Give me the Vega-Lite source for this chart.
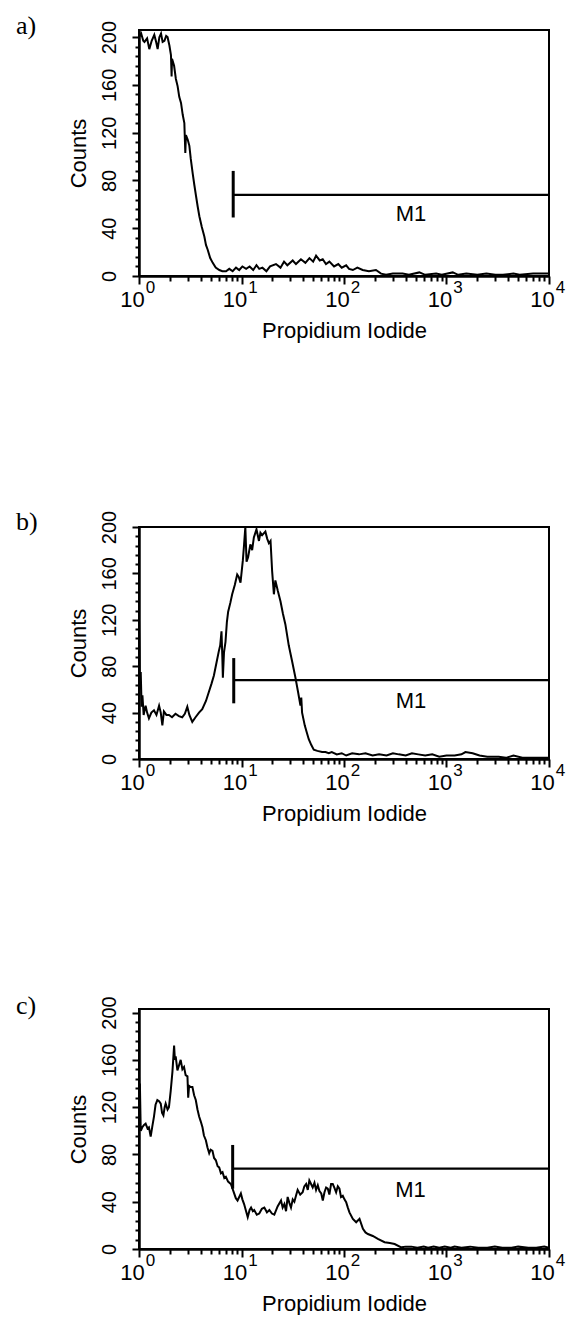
{
  "$schema": "https://vega.github.io/schema/vega-lite/v6.json",
  "background": "white",
  "padding": {"left": 15, "top": 12, "right": 2, "bottom": 0},
  "spacing": 166,
  "datasets": {
    "a": [
      {"x": 1.0, "y": 200}, {"x": 1.05, "y": 203}, {"x": 1.1, "y": 197}, {"x": 1.13, "y": 196}, {"x": 1.2, "y": 199}, {"x": 1.26, "y": 190}, {"x": 1.33, "y": 197}, {"x": 1.41, "y": 202}, {"x": 1.47, "y": 196}, {"x": 1.52, "y": 190}, {"x": 1.58, "y": 200}, {"x": 1.64, "y": 203}, {"x": 1.7, "y": 196}, {"x": 1.77, "y": 197}, {"x": 1.84, "y": 201}, {"x": 1.9, "y": 200}, {"x": 1.98, "y": 193}, {"x": 2.05, "y": 185}, {"x": 2.08, "y": 167}, {"x": 2.1, "y": 182}, {"x": 2.2, "y": 176}, {"x": 2.29, "y": 165}, {"x": 2.38, "y": 159}, {"x": 2.47, "y": 150}, {"x": 2.57, "y": 145}, {"x": 2.67, "y": 135}, {"x": 2.77, "y": 128}, {"x": 2.83, "y": 103}, {"x": 2.87, "y": 118}, {"x": 2.99, "y": 114}, {"x": 3.1, "y": 109}, {"x": 3.2, "y": 98}, {"x": 3.34, "y": 86}, {"x": 3.47, "y": 76}, {"x": 3.6, "y": 67}, {"x": 3.74, "y": 58}, {"x": 3.88, "y": 50}, {"x": 4.1, "y": 41}, {"x": 4.34, "y": 33}, {"x": 4.5, "y": 26}, {"x": 4.68, "y": 22}, {"x": 4.95, "y": 15}, {"x": 5.24, "y": 11}, {"x": 5.6, "y": 7}, {"x": 6.08, "y": 5}, {"x": 6.5, "y": 4}, {"x": 7.06, "y": 4}, {"x": 7.6, "y": 6}, {"x": 8.2, "y": 4}, {"x": 8.84, "y": 7}, {"x": 9.5, "y": 5}, {"x": 10.2, "y": 8}, {"x": 11.1, "y": 6}, {"x": 12, "y": 8}, {"x": 13, "y": 5}, {"x": 14, "y": 9}, {"x": 14.9, "y": 6}, {"x": 16, "y": 7}, {"x": 17.5, "y": 4}, {"x": 19, "y": 8}, {"x": 21.7, "y": 10}, {"x": 24, "y": 7}, {"x": 26, "y": 12}, {"x": 28, "y": 9}, {"x": 31.6, "y": 13}, {"x": 34, "y": 10}, {"x": 38, "y": 14}, {"x": 42, "y": 11}, {"x": 46, "y": 15}, {"x": 50, "y": 12}, {"x": 53.4, "y": 17}, {"x": 58, "y": 13}, {"x": 62, "y": 14}, {"x": 66.7, "y": 10}, {"x": 72, "y": 12}, {"x": 80, "y": 8}, {"x": 88, "y": 10}, {"x": 95, "y": 7}, {"x": 105, "y": 9}, {"x": 112, "y": 6}, {"x": 122, "y": 5}, {"x": 135, "y": 7}, {"x": 152, "y": 5}, {"x": 175, "y": 4}, {"x": 205, "y": 5}, {"x": 230, "y": 2}, {"x": 257, "y": 1}, {"x": 300, "y": 2}, {"x": 373, "y": 2}, {"x": 430, "y": 1}, {"x": 543, "y": 3}, {"x": 620, "y": 1}, {"x": 792, "y": 2}, {"x": 900, "y": 1}, {"x": 1150, "y": 3}, {"x": 1300, "y": 1}, {"x": 1560, "y": 2}, {"x": 2000, "y": 1}, {"x": 2450, "y": 2}, {"x": 3000, "y": 1}, {"x": 3560, "y": 1}, {"x": 4500, "y": 2}, {"x": 5170, "y": 1}, {"x": 7000, "y": 2}, {"x": 10000, "y": 2}
    ],
    "b": [
      {"x": 1.0, "y": 120}, {"x": 1.01, "y": 95}, {"x": 1.02, "y": 60}, {"x": 1.04, "y": 75}, {"x": 1.06, "y": 45}, {"x": 1.08, "y": 55}, {"x": 1.11, "y": 38}, {"x": 1.16, "y": 46}, {"x": 1.2, "y": 40}, {"x": 1.25, "y": 35}, {"x": 1.32, "y": 40}, {"x": 1.4, "y": 42}, {"x": 1.48, "y": 38}, {"x": 1.57, "y": 46}, {"x": 1.63, "y": 40}, {"x": 1.69, "y": 29}, {"x": 1.75, "y": 41}, {"x": 1.85, "y": 38}, {"x": 1.96, "y": 38}, {"x": 2.1, "y": 36}, {"x": 2.27, "y": 39}, {"x": 2.45, "y": 37}, {"x": 2.64, "y": 36}, {"x": 2.8, "y": 39}, {"x": 2.96, "y": 45}, {"x": 3.1, "y": 38}, {"x": 3.31, "y": 32}, {"x": 3.56, "y": 36}, {"x": 3.85, "y": 40}, {"x": 4.14, "y": 43}, {"x": 4.5, "y": 50}, {"x": 4.81, "y": 58}, {"x": 5.1, "y": 65}, {"x": 5.38, "y": 72}, {"x": 5.7, "y": 83}, {"x": 6.01, "y": 93}, {"x": 6.2, "y": 98}, {"x": 6.38, "y": 110}, {"x": 6.5, "y": 88}, {"x": 6.58, "y": 70}, {"x": 6.75, "y": 92}, {"x": 6.98, "y": 101}, {"x": 7.2, "y": 118}, {"x": 7.41, "y": 127}, {"x": 7.8, "y": 135}, {"x": 8.11, "y": 142}, {"x": 8.6, "y": 150}, {"x": 9.08, "y": 159}, {"x": 9.4, "y": 157}, {"x": 9.78, "y": 152}, {"x": 10.3, "y": 171}, {"x": 10.6, "y": 185}, {"x": 10.9, "y": 200}, {"x": 11.2, "y": 170}, {"x": 11.6, "y": 174}, {"x": 12.2, "y": 185}, {"x": 12.7, "y": 180}, {"x": 13.2, "y": 191}, {"x": 14.0, "y": 198}, {"x": 14.8, "y": 188}, {"x": 15.3, "y": 195}, {"x": 15.9, "y": 193}, {"x": 17.1, "y": 196}, {"x": 17.8, "y": 190}, {"x": 18.5, "y": 186}, {"x": 19.2, "y": 188}, {"x": 19.9, "y": 162}, {"x": 20.7, "y": 142}, {"x": 21.4, "y": 154}, {"x": 22.6, "y": 145}, {"x": 24, "y": 136}, {"x": 25.4, "y": 125}, {"x": 26.8, "y": 116}, {"x": 28.9, "y": 98}, {"x": 31.2, "y": 84}, {"x": 33.6, "y": 70}, {"x": 35.6, "y": 58}, {"x": 37.6, "y": 46}, {"x": 38.3, "y": 53}, {"x": 39, "y": 40}, {"x": 41.4, "y": 29}, {"x": 43, "y": 24}, {"x": 45.3, "y": 17}, {"x": 48, "y": 12}, {"x": 50.7, "y": 8}, {"x": 55, "y": 7}, {"x": 61.1, "y": 6}, {"x": 66, "y": 6}, {"x": 71, "y": 5}, {"x": 76, "y": 6}, {"x": 85, "y": 4}, {"x": 95, "y": 5}, {"x": 105, "y": 3}, {"x": 120, "y": 5}, {"x": 140, "y": 4}, {"x": 162, "y": 5}, {"x": 190, "y": 3}, {"x": 220, "y": 4}, {"x": 260, "y": 3}, {"x": 300, "y": 5}, {"x": 342, "y": 4}, {"x": 400, "y": 3}, {"x": 460, "y": 5}, {"x": 530, "y": 4}, {"x": 620, "y": 3}, {"x": 726, "y": 4}, {"x": 850, "y": 2}, {"x": 1000, "y": 3}, {"x": 1200, "y": 3}, {"x": 1400, "y": 4}, {"x": 1530, "y": 6}, {"x": 1800, "y": 5}, {"x": 2100, "y": 3}, {"x": 2500, "y": 2}, {"x": 3230, "y": 2}, {"x": 3800, "y": 1}, {"x": 4500, "y": 3}, {"x": 5500, "y": 1}, {"x": 6800, "y": 1}, {"x": 8000, "y": 1}, {"x": 10000, "y": 1}
    ],
    "c": [
      {"x": 1.0, "y": 148}, {"x": 1.01, "y": 120}, {"x": 1.02, "y": 140}, {"x": 1.04, "y": 100}, {"x": 1.077, "y": 103}, {"x": 1.12, "y": 105}, {"x": 1.16, "y": 106}, {"x": 1.21, "y": 102}, {"x": 1.25, "y": 103}, {"x": 1.3, "y": 95}, {"x": 1.35, "y": 104}, {"x": 1.4, "y": 112}, {"x": 1.45, "y": 122}, {"x": 1.51, "y": 126}, {"x": 1.57, "y": 125}, {"x": 1.63, "y": 123}, {"x": 1.68, "y": 115}, {"x": 1.73, "y": 113}, {"x": 1.78, "y": 120}, {"x": 1.82, "y": 123}, {"x": 1.9, "y": 118}, {"x": 1.96, "y": 120}, {"x": 2.04, "y": 134}, {"x": 2.12, "y": 150}, {"x": 2.2, "y": 172}, {"x": 2.24, "y": 160}, {"x": 2.28, "y": 163}, {"x": 2.37, "y": 151}, {"x": 2.45, "y": 155}, {"x": 2.55, "y": 160}, {"x": 2.65, "y": 152}, {"x": 2.75, "y": 154}, {"x": 2.85, "y": 147}, {"x": 2.97, "y": 146}, {"x": 3.02, "y": 128}, {"x": 3.08, "y": 138}, {"x": 3.2, "y": 137}, {"x": 3.32, "y": 137}, {"x": 3.45, "y": 130}, {"x": 3.58, "y": 126}, {"x": 3.72, "y": 118}, {"x": 3.86, "y": 112}, {"x": 4.0, "y": 108}, {"x": 4.16, "y": 103}, {"x": 4.3, "y": 96}, {"x": 4.49, "y": 92}, {"x": 4.65, "y": 86}, {"x": 4.84, "y": 81}, {"x": 5.0, "y": 84}, {"x": 5.21, "y": 83}, {"x": 5.4, "y": 77}, {"x": 5.62, "y": 75}, {"x": 5.85, "y": 70}, {"x": 6.06, "y": 69}, {"x": 6.3, "y": 64}, {"x": 6.53, "y": 65}, {"x": 6.8, "y": 60}, {"x": 7.04, "y": 61}, {"x": 7.4, "y": 57}, {"x": 7.87, "y": 55}, {"x": 8.1, "y": 52}, {"x": 8.48, "y": 47}, {"x": 8.8, "y": 43}, {"x": 9.15, "y": 41}, {"x": 9.5, "y": 44}, {"x": 9.86, "y": 47}, {"x": 10.2, "y": 42}, {"x": 10.6, "y": 38}, {"x": 11.0, "y": 33}, {"x": 11.5, "y": 27}, {"x": 12.0, "y": 33}, {"x": 12.4, "y": 35}, {"x": 12.9, "y": 32}, {"x": 13.3, "y": 33}, {"x": 14.1, "y": 29}, {"x": 14.9, "y": 30}, {"x": 15.8, "y": 34}, {"x": 16.7, "y": 35}, {"x": 17.7, "y": 31}, {"x": 18.7, "y": 33}, {"x": 19.8, "y": 30}, {"x": 20.9, "y": 29}, {"x": 22.5, "y": 36}, {"x": 24.3, "y": 41}, {"x": 25.2, "y": 35}, {"x": 26.2, "y": 38}, {"x": 27.2, "y": 32}, {"x": 28.2, "y": 44}, {"x": 29.3, "y": 39}, {"x": 30.4, "y": 35}, {"x": 31.6, "y": 42}, {"x": 32.8, "y": 40}, {"x": 34, "y": 45}, {"x": 35.3, "y": 50}, {"x": 37.4, "y": 46}, {"x": 39.5, "y": 48}, {"x": 41, "y": 53}, {"x": 42.7, "y": 55}, {"x": 44.3, "y": 50}, {"x": 45.9, "y": 58}, {"x": 47.7, "y": 55}, {"x": 49.5, "y": 52}, {"x": 51.5, "y": 56}, {"x": 53.4, "y": 50}, {"x": 55.5, "y": 54}, {"x": 57.6, "y": 49}, {"x": 60, "y": 47}, {"x": 62.1, "y": 41}, {"x": 64.5, "y": 48}, {"x": 66.9, "y": 52}, {"x": 69.5, "y": 51}, {"x": 72, "y": 46}, {"x": 74.8, "y": 55}, {"x": 77.7, "y": 55}, {"x": 80.5, "y": 52}, {"x": 83.8, "y": 48}, {"x": 87, "y": 53}, {"x": 90.3, "y": 51}, {"x": 93.5, "y": 44}, {"x": 97.3, "y": 45}, {"x": 101, "y": 42}, {"x": 105, "y": 39.6}, {"x": 109, "y": 35}, {"x": 113, "y": 31}, {"x": 122, "y": 25.5}, {"x": 131.5, "y": 22.6}, {"x": 141.7, "y": 25.5}, {"x": 153, "y": 17}, {"x": 162, "y": 14}, {"x": 171, "y": 12.7}, {"x": 191, "y": 11}, {"x": 214, "y": 8.5}, {"x": 249, "y": 5.7}, {"x": 280, "y": 5}, {"x": 312, "y": 4.2}, {"x": 362, "y": 1.4}, {"x": 400, "y": 2}, {"x": 454, "y": 2}, {"x": 520, "y": 1}, {"x": 600, "y": 2}, {"x": 661, "y": 1}, {"x": 750, "y": 2}, {"x": 850, "y": 1}, {"x": 961, "y": 2}, {"x": 1100, "y": 1}, {"x": 1200, "y": 2}, {"x": 1400, "y": 1}, {"x": 1700, "y": 2}, {"x": 2040, "y": 1}, {"x": 2500, "y": 1}, {"x": 2960, "y": 2}, {"x": 3500, "y": 1}, {"x": 4310, "y": 1}, {"x": 5000, "y": 2}, {"x": 6280, "y": 1}, {"x": 7500, "y": 1}, {"x": 9000, "y": 2}, {"x": 10000, "y": 1}
    ],
    "ma": [{"start": 8.3, "end": 10000, "level": 68, "barLow": 49, "barHigh": 88, "labelX": 450, "labelY": 52, "label": "M1"}],
    "mb": [{"start": 8.4, "end": 10000, "level": 68, "barLow": 48, "barHigh": 87, "labelX": 450, "labelY": 50, "label": "M1"}],
    "mc": [{"start": 8.2, "end": 10000, "level": 68, "barLow": 51, "barHigh": 88, "labelX": 445, "labelY": 50, "label": "M1"}]
  },
  "vconcat": [
    {
      "width": 410, "height": 246,
      "title": {"text": "a)", "anchor": "start", "frame": "group", "font": "Liberation Serif", "fontSize": 26, "fontWeight": "normal", "color": "black", "dx": -123, "dy": 40, "offset": 0, "baseline": "alphabetic"},
      "resolve": {"axis": {"x": "independent", "y": "independent"}},
      "layer": [
        {"data": {"name": "a"}, "mark": {"type": "line", "color": "black", "strokeWidth": 2, "clip": true},
         "encoding": {
           "x": {"field": "x", "type": "quantitative", "scale": {"type": "log", "domain": [1, 10000]},
                 "axis": {"orient": "bottom", "title": "Propidium Iodide", "values": [1, 10, 100, 1000, 10000], "labelExpr": "'10'", "labelOffset": -7, "tickSize": 8, "labelPadding": 5, "titlePadding": 10, "labelFlush": false, "labelOverlap": false}},
           "y": {"field": "y", "type": "quantitative", "scale": {"domain": [0, 206], "nice": false, "zero": false},
                 "axis": {"orient": "left", "title": "Counts", "values": [0, 40, 80, 120, 160, 200], "labelAngle": -90, "labelAlign": "center", "labelBaseline": "bottom", "tickSize": 7, "labelPadding": 13, "titlePadding": 9, "labelFlush": false, "labelOverlap": false}}
         }},
        {"data": {"name": "ma"}, "mark": {"type": "rule", "color": "black", "strokeWidth": 2.2},
         "encoding": {
           "x": {"field": "start", "type": "quantitative", "axis": {"orient": "bottom", "title": null, "values": [2,3,4,5,6,7,8,9,20,30,40,50,60,70,80,90,200,300,400,500,600,700,800,900,2000,3000,4000,5000,6000,7000,8000,9000], "labels": false, "domain": false, "tickSize": 5}},
           "x2": {"field": "end"},
           "y": {"field": "level", "type": "quantitative", "axis": {"orient": "left", "title": null, "values": [8,16,24,32,48,56,64,72,88,96,104,112,128,136,144,152,168,176,184,192], "labels": false, "domain": false, "tickSize": 4}}
         }},
        {"data": {"name": "ma"}, "mark": {"type": "rule", "color": "black", "strokeWidth": 3},
         "encoding": {
           "x": {"field": "start", "type": "quantitative", "axis": {"orient": "bottom", "title": null, "values": [1, 10, 100, 1000, 10000], "labelExpr": "'' + (length(format(datum.value, 'd')) - 1)", "ticks": false, "tickSize": 0, "domain": false, "labelOffset": 11, "labelPadding": 3, "labelFontSize": 17, "labelFlush": false, "labelOverlap": false}},
           "y": {"field": "barLow", "type": "quantitative", "axis": null},
           "y2": {"field": "barHigh"}
         }},
        {"data": {"name": "ma"}, "mark": {"type": "text", "fontSize": 22, "color": "black", "baseline": "middle", "align": "center"},
         "encoding": {"x": {"field": "labelX", "type": "quantitative", "axis": null}, "y": {"field": "labelY", "type": "quantitative", "axis": null}, "text": {"field": "label"}}}
      ]
    },
    {
      "width": 410, "height": 232,
      "title": {"text": "b)", "anchor": "start", "frame": "group", "font": "Liberation Serif", "fontSize": 26, "fontWeight": "normal", "color": "black", "dx": -123, "dy": 46, "offset": 0, "baseline": "alphabetic"},
      "resolve": {"axis": {"x": "independent", "y": "independent"}},
      "layer": [
        {"data": {"name": "b"}, "mark": {"type": "line", "color": "black", "strokeWidth": 2, "clip": true},
         "encoding": {
           "x": {"field": "x", "type": "quantitative", "scale": {"type": "log", "domain": [1, 10000]},
                 "axis": {"orient": "bottom", "title": "Propidium Iodide", "values": [1, 10, 100, 1000, 10000], "labelExpr": "'10'", "labelOffset": -7, "tickSize": 8, "labelPadding": 5, "titlePadding": 10, "labelFlush": false, "labelOverlap": false}},
           "y": {"field": "y", "type": "quantitative", "scale": {"domain": [0, 200], "nice": false, "zero": false},
                 "axis": {"orient": "left", "title": "Counts", "values": [0, 40, 80, 120, 160, 200], "labelAngle": -90, "labelAlign": "center", "labelBaseline": "bottom", "tickSize": 7, "labelPadding": 13, "titlePadding": 9, "labelFlush": false, "labelOverlap": false}}
         }},
        {"data": {"name": "mb"}, "mark": {"type": "rule", "color": "black", "strokeWidth": 2.2},
         "encoding": {
           "x": {"field": "start", "type": "quantitative", "axis": {"orient": "bottom", "title": null, "values": [2,3,4,5,6,7,8,9,20,30,40,50,60,70,80,90,200,300,400,500,600,700,800,900,2000,3000,4000,5000,6000,7000,8000,9000], "labels": false, "domain": false, "tickSize": 5}},
           "x2": {"field": "end"},
           "y": {"field": "level", "type": "quantitative", "axis": {"orient": "left", "title": null, "values": [8,16,24,32,48,56,64,72,88,96,104,112,128,136,144,152,168,176,184,192], "labels": false, "domain": false, "tickSize": 4}}
         }},
        {"data": {"name": "mb"}, "mark": {"type": "rule", "color": "black", "strokeWidth": 3},
         "encoding": {
           "x": {"field": "start", "type": "quantitative", "axis": {"orient": "bottom", "title": null, "values": [1, 10, 100, 1000, 10000], "labelExpr": "'' + (length(format(datum.value, 'd')) - 1)", "ticks": false, "tickSize": 0, "domain": false, "labelOffset": 11, "labelPadding": 3, "labelFontSize": 17, "labelFlush": false, "labelOverlap": false}},
           "y": {"field": "barLow", "type": "quantitative", "axis": null},
           "y2": {"field": "barHigh"}
         }},
        {"data": {"name": "mb"}, "mark": {"type": "text", "fontSize": 22, "color": "black", "baseline": "middle", "align": "center"},
         "encoding": {"x": {"field": "labelX", "type": "quantitative", "axis": null}, "y": {"field": "labelY", "type": "quantitative", "axis": null}, "text": {"field": "label"}}}
      ]
    },
    {
      "width": 410, "height": 240,
      "title": {"text": "c)", "anchor": "start", "frame": "group", "font": "Liberation Serif", "fontSize": 26, "fontWeight": "normal", "color": "black", "dx": -123, "dy": 44, "offset": 0, "baseline": "alphabetic"},
      "resolve": {"axis": {"x": "independent", "y": "independent"}},
      "layer": [
        {"data": {"name": "c"}, "mark": {"type": "line", "color": "black", "strokeWidth": 2, "clip": true},
         "encoding": {
           "x": {"field": "x", "type": "quantitative", "scale": {"type": "log", "domain": [1, 10000]},
                 "axis": {"orient": "bottom", "title": "Propidium Iodide", "values": [1, 10, 100, 1000, 10000], "labelExpr": "'10'", "labelOffset": -7, "tickSize": 8, "labelPadding": 5, "titlePadding": 10, "labelFlush": false, "labelOverlap": false}},
           "y": {"field": "y", "type": "quantitative", "scale": {"domain": [0, 203], "nice": false, "zero": false},
                 "axis": {"orient": "left", "title": "Counts", "values": [0, 40, 80, 120, 160, 200], "labelAngle": -90, "labelAlign": "center", "labelBaseline": "bottom", "tickSize": 7, "labelPadding": 13, "titlePadding": 9, "labelFlush": false, "labelOverlap": false}}
         }},
        {"data": {"name": "mc"}, "mark": {"type": "rule", "color": "black", "strokeWidth": 2.2},
         "encoding": {
           "x": {"field": "start", "type": "quantitative", "axis": {"orient": "bottom", "title": null, "values": [2,3,4,5,6,7,8,9,20,30,40,50,60,70,80,90,200,300,400,500,600,700,800,900,2000,3000,4000,5000,6000,7000,8000,9000], "labels": false, "domain": false, "tickSize": 5}},
           "x2": {"field": "end"},
           "y": {"field": "level", "type": "quantitative", "axis": {"orient": "left", "title": null, "values": [8,16,24,32,48,56,64,72,88,96,104,112,128,136,144,152,168,176,184,192], "labels": false, "domain": false, "tickSize": 4}}
         }},
        {"data": {"name": "mc"}, "mark": {"type": "rule", "color": "black", "strokeWidth": 3},
         "encoding": {
           "x": {"field": "start", "type": "quantitative", "axis": {"orient": "bottom", "title": null, "values": [1, 10, 100, 1000, 10000], "labelExpr": "'' + (length(format(datum.value, 'd')) - 1)", "ticks": false, "tickSize": 0, "domain": false, "labelOffset": 11, "labelPadding": 3, "labelFontSize": 17, "labelFlush": false, "labelOverlap": false}},
           "y": {"field": "barLow", "type": "quantitative", "axis": null},
           "y2": {"field": "barHigh"}
         }},
        {"data": {"name": "mc"}, "mark": {"type": "text", "fontSize": 22, "color": "black", "baseline": "middle", "align": "center"},
         "encoding": {"x": {"field": "labelX", "type": "quantitative", "axis": null}, "y": {"field": "labelY", "type": "quantitative", "axis": null}, "text": {"field": "label"}}}
      ]
    }
  ],
  "config": {
    "font": "Liberation Sans",
    "view": {"stroke": "black", "strokeWidth": 2},
    "axis": {"domainColor": "black", "domainWidth": 2.5, "tickColor": "black", "tickWidth": 2, "labelColor": "black", "titleColor": "black", "labelFont": "Liberation Sans", "titleFont": "Liberation Sans", "labelFontSize": 20, "titleFontSize": 22, "titleFontWeight": "normal", "grid": false},
    "axisX": {"labelFontSize": 22}
  }
}
